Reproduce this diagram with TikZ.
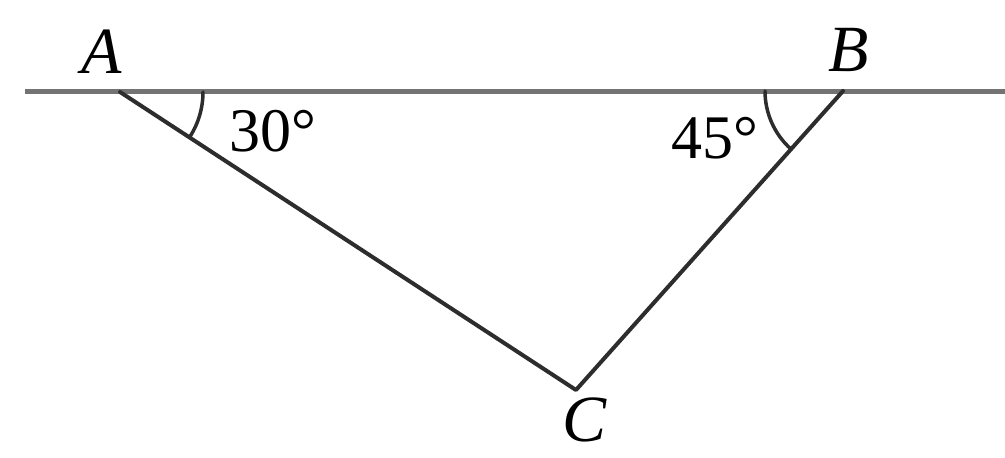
\documentclass[tikz,border=0pt]{standalone}
\usepackage{fontspec}
\setmainfont{Liberation Serif}
\begin{document}
\begin{tikzpicture}[x=1pt,y=1pt,
  lbl/.style={font=\fontsize{66}{78}\selectfont\itshape, inner sep=0pt},
  ang/.style={font=\fontsize{62}{74}\selectfont, inner sep=0pt},
  base/.style={line width=5pt, draw={rgb,255:red,115;green,115;blue,115}},
  side/.style={line width=4pt, draw={rgb,255:red,45;green,45;blue,45}, line cap=round, line join=round}]
\useasboundingbox (0,0) rectangle (1005,458);
\coordinate (A) at (120,366);
\coordinate (B) at (843,367);
\coordinate (C) at (576,68);
\coordinate (L) at (25,366);
\coordinate (R) at (1005,366);
\draw[base] (L) -- (R);
\draw[side] (A) -- (C) -- (B);
\draw[side, line width=3.5pt] ([shift={(0:83)}]A) arc[start angle=0, end angle=-33.2, radius=83];
\draw[side, line width=3.5pt] ([shift={(180:78)}]B) arc[start angle=180, end angle=228.2, radius=78];
\node[lbl] (tA) at (102,406) {A};
\node[lbl] (tB) at (849,408) {B};
\node[lbl] (tC) at (585,38) {C};
\node[ang] (a30) at (273,327) {30°};
\node[ang] (a45) at (715,320) {45°};
\end{tikzpicture}
\end{document}
